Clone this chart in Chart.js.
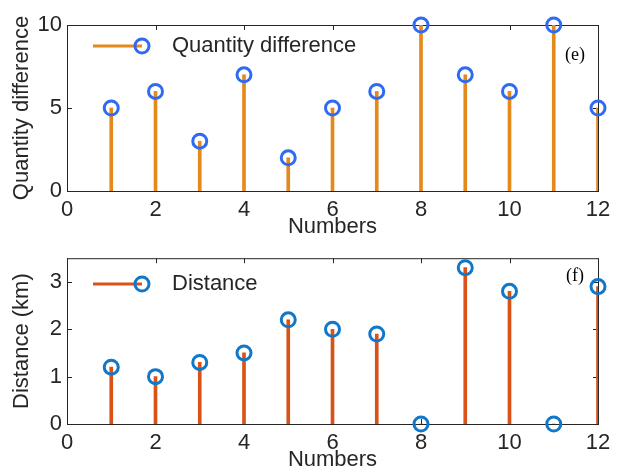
<!DOCTYPE html>
<html>
<head>
<meta charset="utf-8">
<script src="https://cdn.jsdelivr.net/npm/chart.js@4.4.0/dist/chart.umd.min.js"></script>
<style>
  html, body { margin: 0; padding: 0; background: #fff; }
  #wrap { position: relative; width: 621px; height: 473px; }
  canvas { position: absolute; left: 0; }
  #chart-1 { top: 0; }
  #chart-2 { top: 240px; }
</style>
</head>
<body>
<div id="wrap">
  <canvas id="chart-1" width="621" height="240"></canvas>
  <canvas id="chart-2" width="621" height="233"></canvas>
</div>
<script>
const numbers = [1, 2, 3, 4, 5, 6, 7, 8, 9, 10, 11, 12];
const quantityDiff = [5, 6, 3, 7, 2, 5, 6, 10, 7, 6, 10, 5];
const distanceKm = [1.2, 1.0, 1.3, 1.5, 2.2, 2.0, 1.9, 0, 3.3, 2.8, 0, 2.9];
const xTicks = [0, 2, 4, 6, 8, 10, 12];
const quantityTicks = [0, 5, 10];
const distanceTicks = [0, 1, 2, 3];

Chart.defaults.font.family = "'Liberation Sans', Arial, sans-serif";
Chart.defaults.font.size = 22;
Chart.defaults.color = "#262626";

// box, inward ticks, legend and panel tag (matlab look)
const stemDecor = {
  id: "stemDecor",
  beforeDatasetsDraw(chart) {
    const { ctx, chartArea: a, scales } = chart;
    ctx.save();
    ctx.strokeStyle = "#262626";
    ctx.lineWidth = 1;
    ctx.strokeRect(a.left + 0.5, a.top + 0.5, a.right - a.left, a.bottom - a.top);
    ctx.beginPath();
    scales.x.ticks.forEach((t) => {
      const px = Math.round(scales.x.getPixelForValue(t.value)) + 0.5;
      ctx.moveTo(px, a.bottom);
      ctx.lineTo(px, a.bottom - 5);
      ctx.moveTo(px, a.top);
      ctx.lineTo(px, a.top + 5);
    });
    scales.y.ticks.forEach((t) => {
      const py = Math.round(scales.y.getPixelForValue(t.value)) + 0.5;
      ctx.moveTo(a.left, py);
      ctx.lineTo(a.left + 5, py);
      ctx.moveTo(a.right, py);
      ctx.lineTo(a.right - 5, py);
    });
    ctx.stroke();
    ctx.restore();
  },
  afterDraw(chart) {
    const { ctx } = chart;
    const o = chart.options.plugins.stemDecor;
    ctx.save();
    // legend
    ctx.strokeStyle = o.stemColor;
    ctx.lineWidth = 3;
    ctx.beginPath();
    ctx.moveTo(93, o.legendY);
    ctx.lineTo(142, o.legendY);
    ctx.stroke();
    ctx.strokeStyle = o.markerColor;
    ctx.lineWidth = 3;
    ctx.beginPath();
    ctx.arc(142, o.legendY, 7, 0, Math.PI * 2);
    ctx.stroke();
    ctx.fillStyle = "#262626";
    ctx.font = "22px 'Liberation Sans', Arial, sans-serif";
    ctx.textBaseline = "middle";
    ctx.textAlign = "left";
    ctx.fillText(o.label, 172, o.legendY);
    // panel tag
    ctx.font = "18px 'Liberation Serif', 'Times New Roman', serif";
    ctx.fillStyle = "#000";
    ctx.fillText(o.tag, o.tagX, o.tagY);
    ctx.restore();
  },
};

function stemChart(id, values, yMax, yTicks, yTitle, stemColor, markerColor, extra) {
  const canvas = document.getElementById(id);
  return new Chart(canvas, {
    type: "bar",
    data: {
      datasets: [
        {
          type: "line",
          data: numbers.map((n, i) => ({ x: n, y: values[i] })),
          showLine: false,
          pointStyle: "circle",
          pointRadius: 7,
          pointBorderWidth: 3,
          pointBackgroundColor: "rgba(0,0,0,0)",
          pointBorderColor: markerColor,
          clip: false,
        },
        {
          data: numbers.map((n, i) => ({ x: n, y: values[i] })),
          backgroundColor: stemColor,
          barThickness: 3,
        },
      ],
    },
    options: {
      responsive: false,
      animation: false,
      events: [],
      layout: { padding: { top: extra.top, right: 23, left: 0, bottom: 0 } },
      scales: {
        x: {
          type: "linear",
          min: 0,
          max: 12,
          offset: false,
          grid: { display: false, drawTicks: false },
          border: { display: false },
          ticks: { padding: 6, maxRotation: 0 },
          afterBuildTicks: (s) => { s.ticks = xTicks.map((v) => ({ value: v })); },
          afterFit: (s) => { s.height = extra.xHeight; },
          title: { display: true, text: "Numbers", padding: 0 },
        },
        y: {
          min: 0,
          max: yMax,
          grid: { display: false, drawTicks: false },
          border: { display: false },
          ticks: { padding: 5 },
          afterBuildTicks: (s) => { s.ticks = yTicks.map((v) => ({ value: v })); },
          afterFit: (s) => { s.width = 67; },
          title: { display: true, text: yTitle, padding: { top: 9, bottom: 0 } },
        },
      },
      plugins: {
        legend: { display: false },
        tooltip: { enabled: false },
        stemDecor: {
          label: extra.label,
          legendY: extra.legendY,
          stemColor: stemColor,
          markerColor: markerColor,
          tag: extra.tag,
          tagX: extra.tagX,
          tagY: extra.tagY,
        },
      },
    },
    plugins: [stemDecor],
  });
}

stemChart("chart-1", quantityDiff, 10, quantityTicks, "Quantity difference", "#e4891c", "#2f6bf2", {
  top: 25, xHeight: 49, label: "Quantity difference", legendY: 46, tag: "(e)", tagX: 565, tagY: 55,
});
stemChart("chart-2", distanceKm, 3.5, distanceTicks, "Distance (km)", "#d95319", "#1177c9", {
  top: 15, xHeight: 49, label: "Distance", legendY: 44, tag: "(f)", tagX: 566, tagY: 36,
});
</script>
</body>
</html>
